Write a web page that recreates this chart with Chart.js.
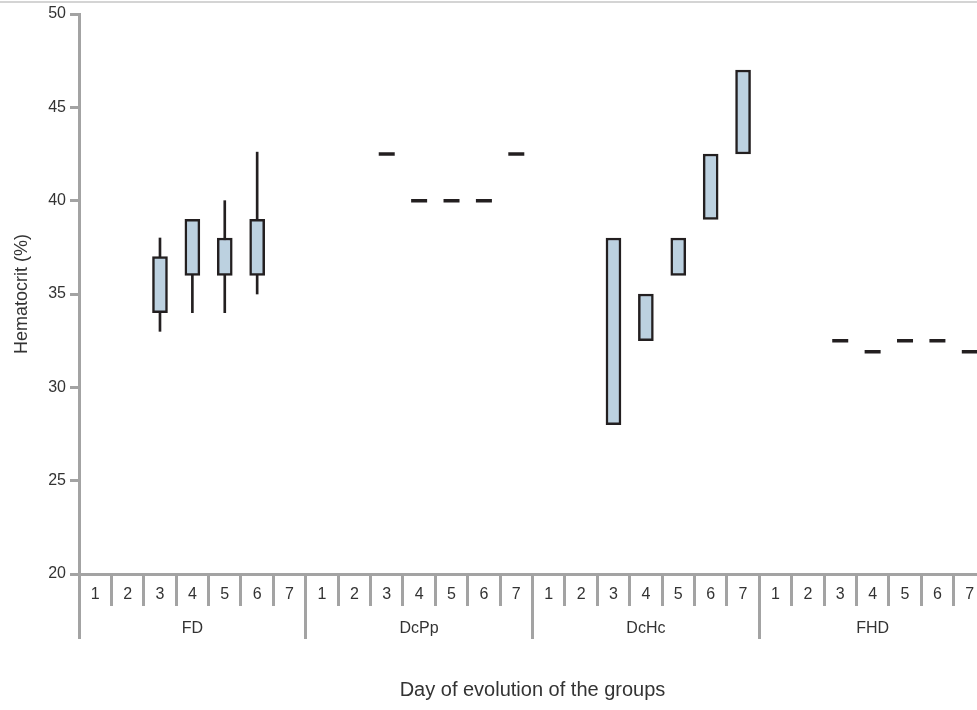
<!DOCTYPE html>
<html>
<head>
<meta charset="utf-8">
<script src="https://cdn.jsdelivr.net/npm/chart.js@4.4.1/dist/chart.umd.min.js"></script>
<style>
  html, body { margin: 0; padding: 0; background: #fff; overflow: hidden; width: 977px; height: 710px; }
  .wrap { position: relative; width: 977px; height: 710px; overflow: hidden; }
  .inner { position: absolute; left: 0; top: 0; width: 990px; height: 710px; }
  .topline { position: absolute; left: 0; top: 1px; width: 977px; height: 2px; background: #d4d4d4; z-index: 2; }
</style>
</head>
<body>
<div class="wrap">
  <div class="topline"></div>
  <div class="inner">
    <canvas id="hctChart" width="990" height="710"></canvas>
  </div>
</div>
<script>
// categories
var groups = ["FD", "DcPp", "DcHc", "FHD"];
var days = ["1", "2", "3", "4", "5", "6", "7"];

// boxes (low / high), one entry per day of each group
var boxLow = [
  null, null, 34, 36, 36, 36, null,
  null, null, null, null, null, null, null,
  null, null, 28, 32.5, 36, 39, 42.5,
  null, null, null, null, null, null, null
];
var boxHigh = [
  null, null, 37, 39, 38, 39, null,
  null, null, null, null, null, null, null,
  null, null, 38, 35, 38, 42.5, 47,
  null, null, null, null, null, null, null
];

// whiskers (min / max)
var whiskerLow = [
  null, null, 33, 34, 34, 35, null,
  null, null, null, null, null, null, null,
  null, null, null, null, null, null, null,
  null, null, null, null, null, null, null
];
var whiskerHigh = [
  null, null, 38, 39, 40, 42.6, null,
  null, null, null, null, null, null, null,
  null, null, null, null, null, null, null,
  null, null, null, null, null, null, null
];

// single values (no spread)
var singleValue = [
  null, null, null, null, null, null, null,
  null, null, 42.5, 40, 40, 40, 42.5,
  null, null, null, null, null, null, null,
  null, null, 32.5, 31.9, 32.5, 32.5, 31.9
];

var yTicks = [20, 25, 30, 35, 40, 45, 50];

var labels = [];
groups.forEach(g => days.forEach(d => labels.push(d)));

function pairs(lo, hi) {
  return lo.map((v, i) => (v === null || hi[i] === null) ? null : [v, hi[i]]);
}

var axisGrey = "#a3a3a3";
var textColor = "#333333";
var fontFamily = "'Liberation Sans', Arial, sans-serif";

new Chart(document.getElementById("hctChart"), {
  type: "bar",
  data: {
    labels: labels,
    datasets: [
      {
        label: "box",
        data: pairs(boxLow, boxHigh),
        backgroundColor: "#bcd1e0",
        borderColor: "#231f20",
        borderWidth: 2.5,
        borderSkipped: false,
        barThickness: 15,
        grouped: false,
        order: 0
      },
      {
        label: "whisker",
        data: pairs(whiskerLow, whiskerHigh),
        backgroundColor: "#231f20",
        borderWidth: 0,
        barThickness: 2,
        grouped: false,
        order: 2
      },
      {
        type: "line",
        label: "single",
        data: singleValue,
        showLine: false,
        pointStyle: "line",
        pointRadius: 8,
        borderWidth: 3.5,
        borderColor: "#231f20",
        order: 1
      }
    ]
  },
  options: {
    responsive: false,
    animation: false,
    events: [],
    layout: { autoPadding: false, padding: { top: 14, right: 4, left: 0, bottom: 0 } },
    plugins: {
      legend: { display: false },
      tooltip: { enabled: false }
    },
    scales: {
      y: {
        min: 20,
        max: 50,
        afterBuildTicks: (scale) => { scale.ticks = yTicks.map(v => ({ value: v })); },
        afterFit: (scale) => { scale.width = 79; },
        grid: { drawOnChartArea: false, tickLength: 9, color: axisGrey, lineWidth: 3 },
        border: { color: axisGrey, width: 3 },
        ticks: { color: textColor, padding: 4, font: { family: fontFamily, size: 16 } },
        title: {
          display: true,
          text: "Hematocrit (%)",
          color: textColor,
          padding: { top: 11, bottom: 0 },
          font: { family: fontFamily, size: 18 }
        }
      },
      x: {
        weight: 0,
        afterFit: (scale) => { scale.height = 32; },
        grid: { offset: true, drawOnChartArea: false, tickLength: 32, color: axisGrey, lineWidth: 3 },
        border: { color: axisGrey, width: 3 },
        ticks: { color: textColor, padding: -21, maxRotation: 0, autoSkip: false, font: { family: fontFamily, size: 16 } }
      },
      x2: {
        type: "category",
        position: "bottom",
        weight: 1,
        labels: groups,
        offset: true,
        afterFit: (scale) => { scale.height = 104; },
        grid: { offset: true, drawOnChartArea: false, tickLength: 33, color: axisGrey, lineWidth: 3 },
        border: { display: false },
        ticks: { color: textColor, padding: -20, maxRotation: 0, autoSkip: false, font: { family: fontFamily, size: 16 } },
        title: {
          display: true,
          text: "Day of evolution of the groups",
          color: textColor,
          padding: { top: 0, bottom: 8 },
          font: { family: fontFamily, size: 20 }
        }
      }
    }
  }
});
</script>
</body>
</html>
